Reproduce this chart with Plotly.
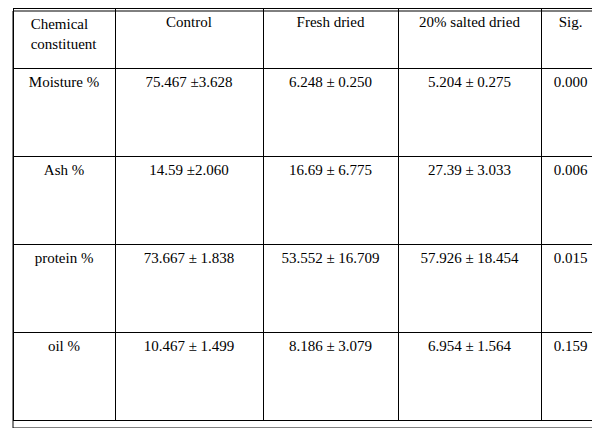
import plotly.graph_objects as go

headers = ["Chemical<br>constituent", "Control", "Fresh dried", "20% salted dried", "Sig."]
constituents = ["Moisture %", "Ash %", "protein %", "oil %"]
control = ["75.467 ±3.628", "14.59 ±2.060", "73.667 ± 1.838", "10.467 ± 1.499"]
fresh_dried = ["6.248 ± 0.250", "16.69 ± 6.775", "53.552 ± 16.709", "8.186 ± 3.079"]
salted_dried = ["5.204 ± 0.275", "27.39 ± 3.033", "57.926 ± 18.454", "6.954 ± 1.564"]
sig = ["0.000", "0.006", "0.015", "0.159"]

font = dict(family="Liberation Serif", size=15, color="black")
fig = go.Figure(go.Table(
    domain=dict(x=[5/600, 592/600], y=[6/428, 1.0]),
    columnwidth=[102, 148, 135, 143, 59],
    header=dict(values=headers, fill_color="white", line_color="black",
                font=font, align="center", height=60),
    cells=dict(values=[constituents, control, fresh_dried, salted_dried, sig],
               fill_color="white", line_color="black", font=font,
               align="center", height=88),
))
fig.add_shape(type="rect", xref="paper", yref="paper",
              x0=5/600, x1=593/600, y0=8/428, y1=425/428,
              line=dict(color="black", width=1))
fig.update_layout(width=600, height=428, margin=dict(l=0, r=0, t=0, b=0),
                  paper_bgcolor="white")
fig.write_html("out.html")
